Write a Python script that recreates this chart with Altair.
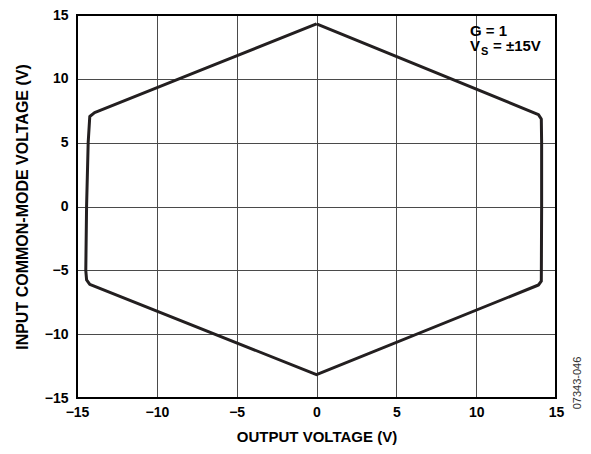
import altair as alt
import pandas as pd

# Hexagon outline (output voltage vs input common-mode voltage), traced in order
vout = [0.0, -6.5, -13.9, -14.2, -14.3, -14.4, -14.45, -14.4, -14.2, 0.0, 13.9, 14.08, 14.1, 14.1, 14.08, 13.9, 0.0]
vcm = [14.3, 11.05, 7.35, 7.05, 5.0, 0.0, -5.0, -5.75, -6.1, -13.17, -6.15, -5.85, 0.0, 5.0, 6.85, 7.2, 14.3]

x_ticks = [-15, -10, -5, 0, 5, 10, 15]
y_ticks = [-15, -10, -5, 0, 5, 10, 15]

df = pd.DataFrame({"vout": vout, "vcm": vcm, "ord": list(range(len(vout)))})

FONT = "Liberation Sans"
W, H = 479, 383

xscale = alt.Scale(domain=[-15, 15], nice=False, zero=False)
yscale = alt.Scale(domain=[-15, 15], nice=False, zero=False)

dash = "replace(datum.label, '-', '\u2013')"

line = alt.Chart(df).mark_line(color="#231f20", strokeWidth=3, strokeJoin="round").encode(
    x=alt.X("vout:Q", scale=xscale,
            axis=alt.Axis(values=x_ticks, title="OUTPUT VOLTAGE (V)", labelExpr=dash,
                          grid=True, gridColor="#4a4a4a", gridWidth=1, ticks=False,
                          domain=False, labelPadding=7, labelFontSize=14, labelFontWeight="bold",
                          labelFont=FONT, labelColor="#000", titleFont=FONT, titleFontSize=15,
                          titleFontWeight="bold", titleColor="#000", titlePadding=10,
                          labelFlush=False)),
    y=alt.Y("vcm:Q", scale=yscale,
            axis=alt.Axis(values=y_ticks, title="INPUT COMMON-MODE VOLTAGE (V)", labelExpr=dash,
                          grid=True, gridColor="#4a4a4a", gridWidth=1, ticks=False,
                          domain=False, labelPadding=9, labelFontSize=14, labelFontWeight="bold",
                          labelFont=FONT, labelColor="#000", titleFont=FONT, titleFontSize=16,
                          titleFontWeight="bold", titleColor="#000", titlePadding=14,
                          labelFlush=False)),
    order="ord:Q",
)

frame = alt.Chart(pd.DataFrame({"a": [0]})).mark_rect(
    filled=False, stroke="#000", strokeWidth=2
).encode(x=alt.value(0), x2=alt.value(W), y=alt.value(0), y2=alt.value(H))

ann_g = alt.Chart(pd.DataFrame({"t": ["G = 1"]})).mark_text(
    font=FONT, fontSize=15, fontWeight="bold", align="left", baseline="alphabetic", color="#000"
).encode(x=alt.value(393), y=alt.value(21), text="t:N")

ann_v = alt.Chart(pd.DataFrame({"t": ["V"]})).mark_text(
    font=FONT, fontSize=15, fontWeight="bold", align="left", baseline="alphabetic", color="#000"
).encode(x=alt.value(393), y=alt.value(36), text="t:N")

ann_s = alt.Chart(pd.DataFrame({"t": ["S"]})).mark_text(
    font=FONT, fontSize=11, fontWeight="bold", align="left", baseline="alphabetic", color="#000"
).encode(x=alt.value(404), y=alt.value(40), text="t:N")

ann_rest = alt.Chart(pd.DataFrame({"t": ["= \u00b115V"]})).mark_text(
    font=FONT, fontSize=15, fontWeight="bold", align="left", baseline="alphabetic", color="#000"
).encode(x=alt.value(416), y=alt.value(36), text="t:N")

code = alt.Chart(pd.DataFrame({"t": ["07343-046"]})).mark_text(
    font=FONT, fontSize=11, angle=270, align="center", baseline="middle", color="#333"
).encode(x=alt.value(501), y=alt.value(368), text="t:N")

chart = alt.layer(line, frame, ann_g, ann_v, ann_s, ann_rest, code).properties(
    width=W, height=H,
    autosize=alt.AutoSizeParams(type="none"),
    padding={"left": 69, "top": 7, "right": 27, "bottom": 48},
).configure_view(strokeWidth=0).configure(background="white")

chart.save("out.html", embed_options={"renderer": "svg", "actions": False})
